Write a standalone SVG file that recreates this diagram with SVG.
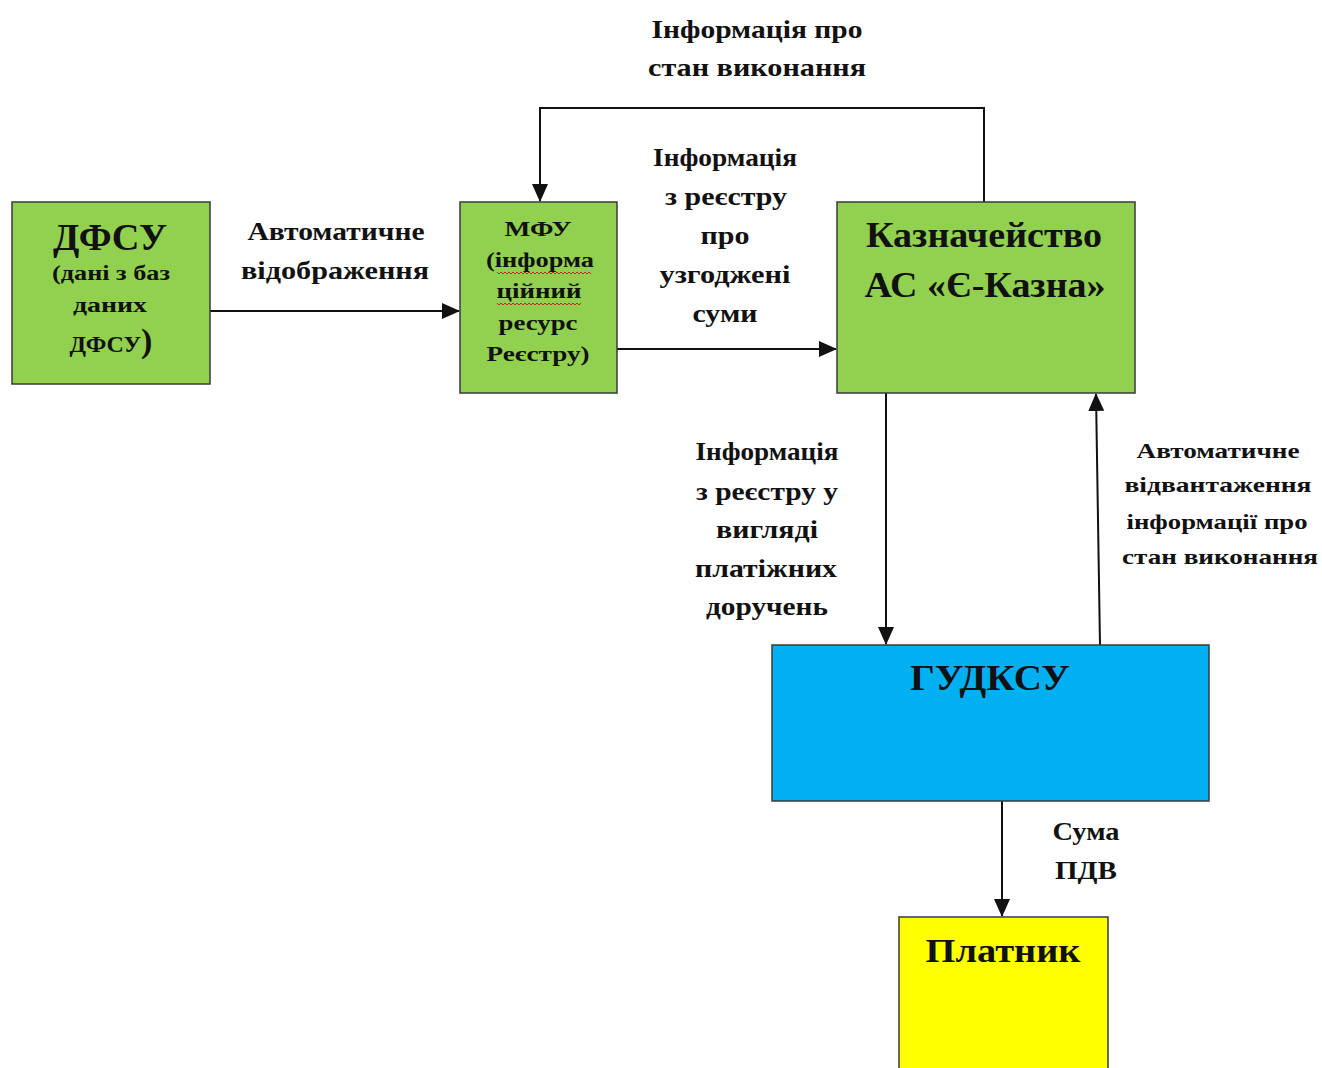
<svg xmlns="http://www.w3.org/2000/svg" width="1322" height="1068" viewBox="0 0 1322 1068">
<defs>
<style>
text{font-family:"Liberation Serif","Times New Roman",serif;font-weight:bold;fill:#111;text-anchor:middle}
.box{stroke:#3a3a3a;stroke-width:1.5}
.green{fill:#92D050}
.blue{fill:#00B0F0}
.yellow{fill:#FFFF00}
.edge{fill:none;stroke:#111;stroke-width:2}
.lbl{font-size:26px}
.sp{fill:none;stroke:#d02020;stroke-width:1}
</style>
<marker id="arrL" markerWidth="18" markerHeight="16" refX="17" refY="8" orient="auto" markerUnits="userSpaceOnUse" viewBox="0 0 18 16">
<path d="M0,0 L18,8 L0,16 z" fill="#111"/>
</marker>
</defs>
<rect width="1322" height="1068" fill="#fff"/>

<g id="connectors">
<path class="edge" d="M210,311 L459,311" marker-end="url(#arrL)"/>
<path class="edge" d="M617,349 L836,349" marker-end="url(#arrL)"/>
<path class="edge" d="M984,202 L984,108 L540,108 L540,201" marker-end="url(#arrL)"/>
<path class="edge" d="M886,393 L886,644" marker-end="url(#arrL)"/>
<path class="edge" d="M1100,645 L1096,394" marker-end="url(#arrL)"/>
<path class="edge" d="M1002,801 L1002,916" marker-end="url(#arrL)"/>
<g lengthAdjust="spacingAndGlyphs">
<text class="lbl" x="757" y="38" textLength="211" lengthAdjust="spacingAndGlyphs">Інформація про</text>
<text class="lbl" x="757" y="76" textLength="218" lengthAdjust="spacingAndGlyphs">стан виконання</text>
<text class="lbl" x="336" y="240" textLength="177" lengthAdjust="spacingAndGlyphs">Автоматичне</text>
<text class="lbl" x="335" y="279" textLength="188" lengthAdjust="spacingAndGlyphs">відображення</text>
<text class="lbl" x="725" y="166" textLength="144" lengthAdjust="spacingAndGlyphs">Інформація</text>
<text class="lbl" x="726" y="205" textLength="122" lengthAdjust="spacingAndGlyphs">з реєстру</text>
<text class="lbl" x="725" y="244" textLength="49" lengthAdjust="spacingAndGlyphs">про</text>
<text class="lbl" x="725" y="283" textLength="131" lengthAdjust="spacingAndGlyphs">узгоджені</text>
<text class="lbl" x="725" y="322" textLength="65" lengthAdjust="spacingAndGlyphs">суми</text>
<text class="lbl" x="767" y="460" textLength="143" lengthAdjust="spacingAndGlyphs">Інформація</text>
<text class="lbl" x="767" y="500" textLength="142" lengthAdjust="spacingAndGlyphs">з реєстру у</text>
<text class="lbl" x="767" y="538" textLength="102" lengthAdjust="spacingAndGlyphs">вигляді</text>
<text class="lbl" x="766" y="577" textLength="142" lengthAdjust="spacingAndGlyphs">платіжних</text>
<text class="lbl" x="767" y="615" textLength="122" lengthAdjust="spacingAndGlyphs">доручень</text>
<text x="1218" y="458" font-size="22" textLength="163" lengthAdjust="spacingAndGlyphs">Автоматичне</text>
<text x="1218" y="492" font-size="22" textLength="187" lengthAdjust="spacingAndGlyphs">відвантаження</text>
<text x="1217" y="529" font-size="22" textLength="181" lengthAdjust="spacingAndGlyphs">інформації про</text>
<text x="1220" y="564" font-size="22" textLength="196" lengthAdjust="spacingAndGlyphs">стан виконання</text>
<text class="lbl" x="1086" y="840" textLength="67" lengthAdjust="spacingAndGlyphs">Сума</text>
<text class="lbl" x="1086" y="879" textLength="62" lengthAdjust="spacingAndGlyphs">ПДВ</text>
</g>
</g>

<g id="node-dfsu">
<rect class="box green" x="12" y="202" width="198" height="182"/>
<text x="110" y="250" font-size="38" textLength="114" lengthAdjust="spacingAndGlyphs">ДФСУ</text>
<text x="111" y="280" font-size="22" textLength="118" lengthAdjust="spacingAndGlyphs">(дані з баз</text>
<text x="110" y="312" font-size="22" textLength="74" lengthAdjust="spacingAndGlyphs">даних</text>
<text x="111" y="352" font-size="24">ДФСУ<tspan font-size="34">)</tspan></text>
</g>

<g id="node-mfu">
<rect class="box green" x="460" y="202" width="157" height="191"/>
<text x="538" y="236" font-size="22" textLength="67" lengthAdjust="spacingAndGlyphs">МФУ</text>
<text x="540" y="267" font-size="22" textLength="108" lengthAdjust="spacingAndGlyphs">(інформа</text>
<text x="539" y="298" font-size="22" textLength="85" lengthAdjust="spacingAndGlyphs">ційний</text>
<text x="538" y="330" font-size="22" textLength="79" lengthAdjust="spacingAndGlyphs">ресурс</text>
<text x="538" y="361" font-size="22" textLength="103" lengthAdjust="spacingAndGlyphs">Реєстру)</text>
<path class="sp" d="M497,272 l2,2 l2,-2 l2,2 l2,-2 l2,2 l2,-2 l2,2 l2,-2 l2,2 l2,-2 l2,2 l2,-2 l2,2 l2,-2 l2,2 l2,-2 l2,2 l2,-2 l2,2 l2,-2 l2,2 l2,-2 l2,2 l2,-2 l2,2 l2,-2 l2,2 l2,-2 l2,2 l2,-2 l2,2 l2,-2 l2,2 l2,-2 l2,2 l2,-2 l2,2 l2,-2 l2,2 l2,-2 l2,2 l2,-2 l2,2 l2,-2 l2,2 l2,-2 l2,2"/>
<path class="sp" d="M497,303 l2,2 l2,-2 l2,2 l2,-2 l2,2 l2,-2 l2,2 l2,-2 l2,2 l2,-2 l2,2 l2,-2 l2,2 l2,-2 l2,2 l2,-2 l2,2 l2,-2 l2,2 l2,-2 l2,2 l2,-2 l2,2 l2,-2 l2,2 l2,-2 l2,2 l2,-2 l2,2 l2,-2 l2,2 l2,-2 l2,2 l2,-2 l2,2 l2,-2 l2,2 l2,-2 l2,2 l2,-2 l2,2 l2,-2"/>
</g>

<g id="node-kazna">
<rect class="box green" x="837" y="202" width="298" height="191"/>
<text x="984" y="247" font-size="36" textLength="236" lengthAdjust="spacingAndGlyphs">Казначейство</text>
<text x="985" y="297" font-size="36" textLength="241" lengthAdjust="spacingAndGlyphs">АС «Є-Казна»</text>
</g>

<g id="node-gudksu">
<rect class="box blue" x="772" y="645" width="437" height="156"/>
<text x="990" y="690" font-size="36" textLength="160" lengthAdjust="spacingAndGlyphs">ГУДКСУ</text>
</g>

<g id="node-platnyk">
<rect class="box yellow" x="899" y="917" width="209" height="160"/>
<text x="1003" y="962" font-size="34" textLength="155" lengthAdjust="spacingAndGlyphs">Платник</text>
</g>
</svg>
